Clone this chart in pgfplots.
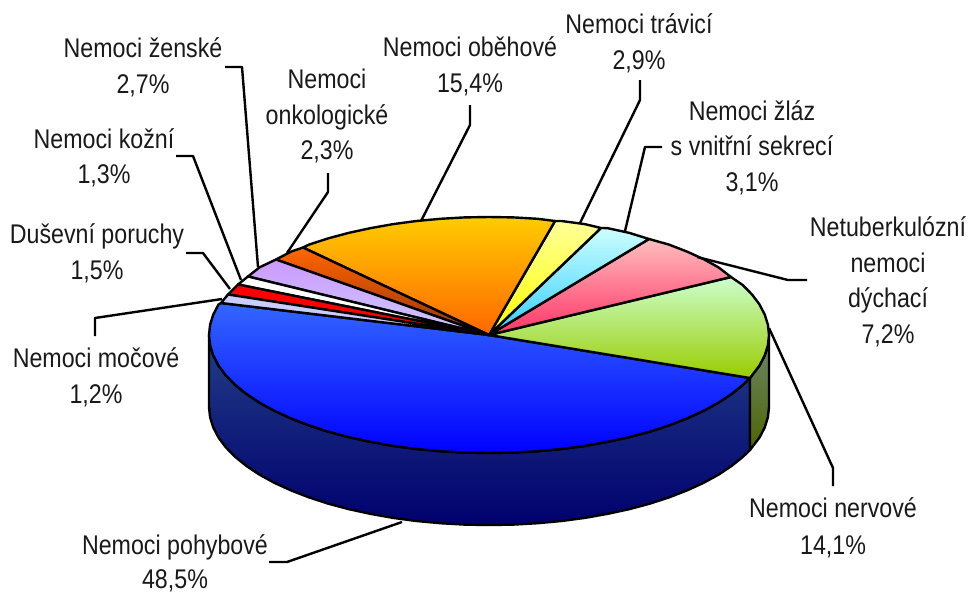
\documentclass[border=0pt]{standalone}
\usepackage{pgfplots}
\pgfplotsset{compat=1.18}
\usepackage{fontspec}
\setmainfont[FakeStretch=0.86]{Liberation Sans}
\newcommand{\lab}[3]{\node[anchor=base,inner sep=0pt,text=black!90] at (axis cs:#1,#2) {#3};}
\begin{document}
\begin{tikzpicture}
\begin{axis}[
  scale only axis, width=968pt, height=592pt,
  xmin=0, xmax=968, ymin=0, ymax=592, y dir=reverse,
  hide axis, clip=false,
  every axis plot/.append style={line width=2.4pt,line join=round},
  font=\fontsize{27pt}{30pt}\selectfont
]
% keeps the page as large as the axis
\addplot[draw=none,forget plot] coordinates {(0,0)(968,592)};
% side wall: blue
\addplot[draw=black,top color={rgb,255:red,34;green,62;blue,135}, bottom color={rgb,255:red,0;green,0;blue,110}] coordinates {
(209,335)(210.1,345.3)(213.3,355.5)(218.5,365.5)(225.9,375.4)(235.2,384.9)(246.5,394)(259.6,402.7)(274.5,410.9)(291,418.4)(309,425.4)(328.4,431.7)(349,437.2)(370.7,441.9)(393.2,445.9)(416.5,449)(440.4,451.2)(464.6,452.6)(489,453)(513.4,452.6)(537.6,451.2)(561.5,449)(584.8,445.9)(607.3,441.9)(629,437.2)(649.6,431.7)(669,425.4)(687,418.4)(703.5,410.9)(718.4,402.7)(731.5,394)(742.8,384.9)(750,378)
(750,450)(742.8,456.9)(731.5,466)(718.4,474.7)(703.5,482.9)(687,490.4)(669,497.4)(649.6,503.7)(629,509.2)(607.3,513.9)(584.8,517.9)(561.5,521)(537.6,523.2)(513.4,524.6)(489,525)(464.6,524.6)(440.4,523.2)(416.5,521)(393.2,517.9)(370.7,513.9)(349,509.2)(328.4,503.7)(309,497.4)(291,490.4)(274.5,482.9)(259.6,474.7)(246.5,466)(235.2,456.9)(225.9,447.4)(218.5,437.5)(213.3,427.5)(210.1,417.3)(209,407)
} -- cycle;
% side wall: green
\addplot[draw=black,top color={rgb,255:red,110;green,135;blue,110}, bottom color={rgb,255:red,77;green,102;blue,0}] coordinates {
(750,378)(759.5,365.5)(764.7,355.5)(767.9,345.3)(769,335)(769,407)(767.9,417.3)(764.7,427.5)(759.5,437.5)(750,450)
} -- cycle;
% top: Nemoci pohybove 48,5
\addplot[draw=black,top color={rgb,255:red,51;green,102;blue,255}, bottom color={rgb,255:red,0;green,0;blue,255}] coordinates {
(489,335)(221,303)(218.5,304.5)(213.3,314.5)(210.1,324.7)(209,335)(210.1,345.3)(213.3,355.5)(218.5,365.5)(225.9,375.4)(235.2,384.9)(246.5,394)(259.6,402.7)(274.5,410.9)(291,418.4)(309,425.4)(328.4,431.7)(349,437.2)(370.7,441.9)(393.2,445.9)(416.5,449)(440.4,451.2)(464.6,452.6)(489,453)(513.4,452.6)(537.6,451.2)(561.5,449)(584.8,445.9)(607.3,441.9)(629,437.2)(649.6,431.7)(669,425.4)(687,418.4)(703.5,410.9)(718.4,402.7)(731.5,394)(742.8,384.9)(750,378)
} -- cycle;
% Nemoci nervove 14,1
\addplot[draw=black,top color={rgb,255:red,204;green,255;blue,204}, bottom color={rgb,255:red,153;green,204;blue,0}] coordinates {
(489,335)(750,378)(759.5,365.5)(764.7,355.5)(767.9,345.3)(769,335)(767.9,324.7)(764.7,314.5)(759.5,304.5)(752.1,294.6)(742.8,285.1)(731,277)
} -- cycle;
% Netuberkulozni nemoci dychaci 7,2
\addplot[draw=black,top color={rgb,255:red,255;green,190;blue,190}, bottom color={rgb,255:red,255;green,51;blue,102}] coordinates {
(489,335)(731,277)(718.4,267.3)(703.5,259.1)(687,251.6)(669,244.6)(649,239)
} -- cycle;
% Nemoci zlaz 3,1
\addplot[draw=black,top color={rgb,255:red,204;green,255;blue,255}, bottom color={rgb,255:red,51;green,204;blue,255}] coordinates {
(489,335)(649,239)(629,232.8)(607.3,228.1)(601,228)
} -- cycle;
% Nemoci travici 2,9
\addplot[draw=black,top color={rgb,255:red,255;green,255;blue,153}, bottom color={rgb,255:red,255;green,255;blue,0}] coordinates {
(489,335)(601,228)(584.8,224.1)(561.5,221)(555,221)
} -- cycle;
% Nemoci obehove 15,4
\addplot[draw=black,top color={rgb,255:red,255;green,204;blue,0}, bottom color={rgb,255:red,255;green,102;blue,0}] coordinates {
(489,335)(555,221)(537.6,218.8)(513.4,217.4)(489,217)(464.6,217.4)(440.4,218.8)(416.5,221)(393.2,224.1)(370.7,228.1)(349,232.8)(328.4,238.3)(309,244.6)(303,247.5)
} -- cycle;
% Nemoci onkologicke 2,3
\addplot[draw=black,top color={rgb,255:red,255;green,102;blue,0}, bottom color={rgb,255:red,153;green,51;blue,0}] coordinates {
(489,335)(303,247.5)(291,251.6)(276,259.5)
} -- cycle;
% Nemoci zenske 2,7
\addplot[draw=black,top color={rgb,255:red,204;green,153;blue,255}, bottom color={rgb,255:red,204;green,204;blue,255}] coordinates {
(489,335)(276,259.5)(259.6,267.3)(248,276.5)
} -- cycle;
% Nemoci kozni 1,3
\addplot[draw=black,fill=white] coordinates {
(489,335)(248,276.5)(238,284.5)
} -- cycle;
% Dusevni poruchy 1,5
\addplot[draw=black,fill=red] coordinates {
(489,335)(238,284.5)(228,294.5)
} -- cycle;
% Nemoci mocove 1,2
\addplot[draw=black,fill={rgb,255:red,204;green,204;blue,255}] coordinates {
(489,335)(228,294.5)(221,303)
} -- cycle;
% leader lines
\addplot[black] coordinates {(225,67)(242,67)(258,267)};
\addplot[black] coordinates {(176,156)(193,156)(241,280)};
\addplot[black] coordinates {(186,253)(203,253)(230,289)};
\addplot[black] coordinates {(95,336)(95,318)(222,299)};
\addplot[black] coordinates {(269,562)(287,562)(402,522)};
\addplot[black] coordinates {(769,328)(833,468)(833,486)};
\addplot[black] coordinates {(697,257)(788,280)(807,280)};
\addplot[black] coordinates {(662,147)(645,147)(625,231)};
\addplot[black] coordinates {(640,80)(640,100)(580,223)};
\addplot[black] coordinates {(470,105)(470,125)(421,221)};
\addplot[black] coordinates {(328,173)(328,192)(287,253)};
% labels
\lab{143}{57}{Nemoci ženské}
\lab{143}{93}{2,7\%}
\lab{104}{148}{Nemoci kožní}
\lab{104}{183}{1,3\%}
\lab{97}{243}{Duševní poruchy}
\lab{97}{279}{1,5\%}
\lab{96}{367}{Nemoci močové}
\lab{96}{403}{1,2\%}
\lab{175}{554}{Nemoci pohybové}
\lab{175}{588}{48,5\%}
\lab{833}{517}{Nemoci nervové}
\lab{833}{554}{14,1\%}
\lab{888}{236}{Netuberkulózní}
\lab{888}{272}{nemoci}
\lab{888}{307}{dýchací}
\lab{888}{343}{7,2\%}
\lab{752}{120}{Nemoci žláz}
\lab{752}{155}{s vnitřní sekrecí}
\lab{752}{191}{3,1\%}
\lab{639}{33}{Nemoci trávicí}
\lab{639}{69}{2,9\%}
\lab{470}{56}{Nemoci oběhové}
\lab{470}{92}{15,4\%}
\lab{327}{88}{Nemoci}
\lab{327}{124}{onkologické}
\lab{327}{159}{2,3\%}
\end{axis}
\end{tikzpicture}
\end{document}
